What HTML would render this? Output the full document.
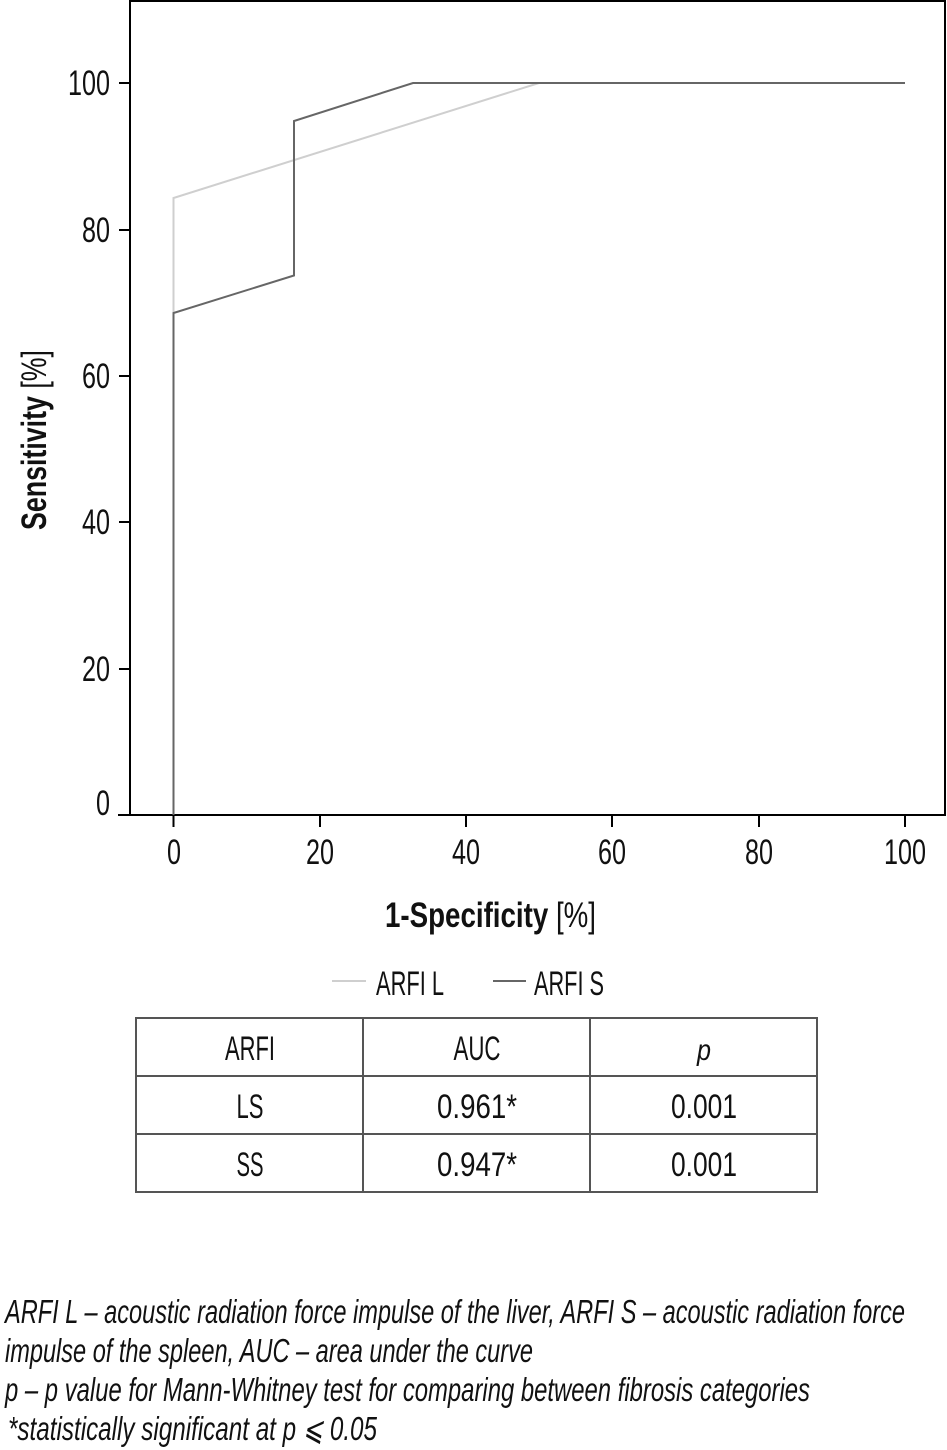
<!DOCTYPE html>
<html><head><meta charset="utf-8"><style>
html,body{margin:0;padding:0;background:#fff;}
svg{display:block;}
text{font-family:"Liberation Sans",sans-serif;fill:#111;}
</style></head><body>
<svg width="947" height="1450" viewBox="0 0 947 1450" xmlns="http://www.w3.org/2000/svg">
<rect x="130" y="1" width="815" height="814" fill="none" stroke="#000" stroke-width="2"/>
<line x1="118" y1="815" x2="945" y2="815" stroke="#000" stroke-width="2"/>
<g stroke="#000" stroke-width="2">
<line x1="119" y1="83" x2="130" y2="83"/>
<line x1="119" y1="230" x2="130" y2="230"/>
<line x1="119" y1="376" x2="130" y2="376"/>
<line x1="119" y1="522" x2="130" y2="522"/>
<line x1="119" y1="669" x2="130" y2="669"/>
<line x1="173.5" y1="815" x2="173.5" y2="827"/>
<line x1="320" y1="815" x2="320" y2="827"/>
<line x1="466" y1="815" x2="466" y2="827"/>
<line x1="612" y1="815" x2="612" y2="827"/>
<line x1="759" y1="815" x2="759" y2="827"/>
<line x1="905" y1="815" x2="905" y2="827"/>
</g>
<g font-size="35" text-anchor="end">
<text x="110" y="95" textLength="42" lengthAdjust="spacingAndGlyphs">100</text>
<text x="110" y="242" textLength="28" lengthAdjust="spacingAndGlyphs">80</text>
<text x="110" y="388" textLength="28" lengthAdjust="spacingAndGlyphs">60</text>
<text x="110" y="534" textLength="28" lengthAdjust="spacingAndGlyphs">40</text>
<text x="110" y="681" textLength="28" lengthAdjust="spacingAndGlyphs">20</text>
<text x="110" y="815" textLength="14" lengthAdjust="spacingAndGlyphs">0</text>
</g>
<g font-size="35" text-anchor="middle">
<text x="174" y="864" textLength="14" lengthAdjust="spacingAndGlyphs">0</text>
<text x="320" y="864" textLength="28" lengthAdjust="spacingAndGlyphs">20</text>
<text x="466" y="864" textLength="28" lengthAdjust="spacingAndGlyphs">40</text>
<text x="612" y="864" textLength="28" lengthAdjust="spacingAndGlyphs">60</text>
<text x="759" y="864" textLength="28" lengthAdjust="spacingAndGlyphs">80</text>
<text x="905" y="864" textLength="42" lengthAdjust="spacingAndGlyphs">100</text>
</g>
<polyline points="173.5,815 173.5,198 539,83 905,83" fill="none" stroke="#cfcfcf" stroke-width="2"/>
<polyline points="173.5,815 173.5,313 294,275.5 294,121 413,83 905,83" fill="none" stroke="#666" stroke-width="2"/>
<text x="385" y="927" font-size="35" textLength="211" lengthAdjust="spacingAndGlyphs"><tspan font-weight="bold">1-Specificity</tspan> [%]</text>
<text transform="translate(46,440) rotate(-90)" text-anchor="middle" font-size="35" textLength="180" lengthAdjust="spacingAndGlyphs"><tspan font-weight="bold">Sensitivity</tspan> [%]</text>
<line x1="332" y1="981" x2="366" y2="981" stroke="#cfcfcf" stroke-width="2"/>
<text x="376" y="995" font-size="34" textLength="68" lengthAdjust="spacingAndGlyphs">ARFI L</text>
<line x1="493" y1="981" x2="526" y2="981" stroke="#666" stroke-width="2"/>
<text x="534" y="995" font-size="34" textLength="70" lengthAdjust="spacingAndGlyphs">ARFI S</text>
<g stroke="#555" stroke-width="2" fill="none">
<rect x="136" y="1018" width="681" height="174"/>
<line x1="136" y1="1076" x2="817" y2="1076"/>
<line x1="136" y1="1134" x2="817" y2="1134"/>
<line x1="363" y1="1018" x2="363" y2="1192"/>
<line x1="590" y1="1018" x2="590" y2="1192"/>
</g>
<g font-size="34" text-anchor="middle">
<text x="250" y="1060" textLength="50" lengthAdjust="spacingAndGlyphs">ARFI</text>
<text x="477" y="1060" textLength="47" lengthAdjust="spacingAndGlyphs">AUC</text>
<text x="704" y="1060" font-style="italic" font-size="30" textLength="14" lengthAdjust="spacingAndGlyphs">p</text>
<text x="250" y="1118" textLength="27" lengthAdjust="spacingAndGlyphs">LS</text>
<text x="477" y="1118" textLength="80" lengthAdjust="spacingAndGlyphs">0.961*</text>
<text x="704" y="1118" textLength="66" lengthAdjust="spacingAndGlyphs">0.001</text>
<text x="250" y="1176" textLength="27" lengthAdjust="spacingAndGlyphs">SS</text>
<text x="477" y="1176" textLength="80" lengthAdjust="spacingAndGlyphs">0.947*</text>
<text x="704" y="1176" textLength="66" lengthAdjust="spacingAndGlyphs">0.001</text>
</g>
<g font-size="33" font-style="italic">
<text x="5" y="1323" textLength="900" lengthAdjust="spacingAndGlyphs">ARFI L – acoustic radiation force impulse of the liver, ARFI S – acoustic radiation force</text>
<text x="5" y="1362" textLength="528" lengthAdjust="spacingAndGlyphs">impulse of the spleen, AUC – area under the curve</text>
<text x="5" y="1401" textLength="805" lengthAdjust="spacingAndGlyphs">p – p value for Mann-Whitney test for comparing between fibrosis categories</text>
<text x="8" y="1440" textLength="369" lengthAdjust="spacingAndGlyphs">*statistically significant at p ⩽ 0.05</text>
</g>
</svg>
</body></html>
